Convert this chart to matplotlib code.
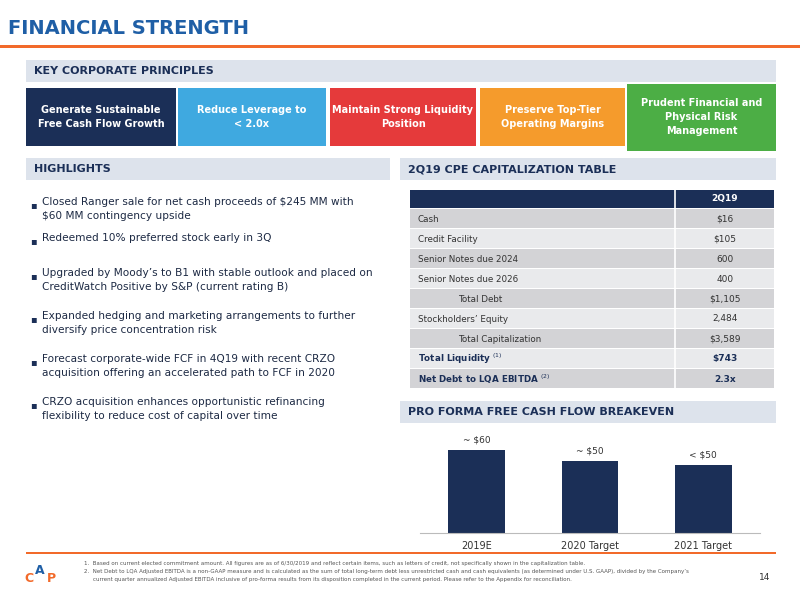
import matplotlib
matplotlib.use('Agg')
import matplotlib.pyplot as plt
from matplotlib.patches import Rectangle

NAVY = '#1b2f57'
principles = ['Generate Sustainable\nFree Cash Flow Growth', 'Reduce Leverage to\n< 2.0x',
              'Maintain Strong Liquidity\nPosition', 'Preserve Top-Tier\nOperating Margins',
              'Prudent Financial and\nPhysical Risk\nManagement']
principle_colors = [NAVY, '#3fa9e0', '#e53a3b', '#f59b2c', '#4cae45']
highlights = [
    'Closed Ranger sale for net cash proceeds of $245 MM with\n$60 MM contingency upside',
    'Redeemed 10% preferred stock early in 3Q',
    'Upgraded by Moody\u2019s to B1 with stable outlook and placed on\nCreditWatch Positive by S&P (current rating B)',
    'Expanded hedging and marketing arrangements to further\ndiversify price concentration risk',
    'Forecast corporate-wide FCF in 4Q19 with recent CRZO\nacquisition offering an accelerated path to FCF in 2020',
    'CRZO acquisition enhances opportunistic refinancing\nflexibility to reduce cost of capital over time',
]
row_labels = ['Cash', 'Credit Facility', 'Senior Notes due 2024', 'Senior Notes due 2026',
              'Total Debt', 'Stockholders\u2019 Equity', 'Total Capitalization',
              'Total Liquidity $^{(1)}$', 'Net Debt to LQA EBITDA $^{(2)}$']
row_values = ['$16', '$105', '600', '400', '$1,105', '2,484', '$3,589', '$743', '2.3x']
bar_cats = ['2019E', '2020 Target', '2021 Target']
bar_vals = [60, 51.5, 49]
bar_labels = ['~ $60', '~ $50', '< $50']

fig = plt.figure(figsize=(8, 6), dpi=100)
ax = fig.add_axes([0, 0, 1, 1])
ax.set_xlim(0, 800); ax.set_ylim(600, 0); ax.axis('off')

def rect(x, y, w, h, c):
    ax.add_patch(Rectangle((x, y), w, h, color=c, lw=0))

ax.text(8, 29, 'FINANCIAL STRENGTH', color='#1f5fa6', fontsize=14, fontweight='bold', va='center')
rect(0, 45, 800, 2.5, '#f26a2a')

def band(x, y, w, txt):
    rect(x, y, w, 22, '#dde3ec')
    ax.text(x + 8, y + 11, txt, color=NAVY, fontsize=8, fontweight='bold', va='center')

band(26, 60, 750, 'KEY CORPORATE PRINCIPLES')
xs = [26, 178, 330, 480, 627]
ws = [150, 148, 146, 145, 149]
for i, (t, c) in enumerate(zip(principles, principle_colors)):
    y0, h = (84, 67) if i == 4 else (88, 58)
    rect(xs[i], y0, ws[i], h, c)
    ax.text(xs[i] + ws[i] / 2, y0 + h / 2, t, color='white', fontsize=7, fontweight='bold',
            ha='center', va='center', linespacing=1.5)

band(26, 158, 364, 'HIGHLIGHTS')
band(400, 158, 376, '2Q19 CPE CAPITALIZATION TABLE')
ys = [205, 241, 276, 319, 362, 405]
for y, t in zip(ys, highlights):
    ax.text(30, y, '\u25aa', color=NAVY, fontsize=7, va='center')
    ax.text(42, y - 8, t, color='#1d2a44', fontsize=7.6, va='top', linespacing=1.5)

# table
tx, tw, vx = 410, 364, 675
rect(tx, 190, tw, 18, NAVY)
ax.text(725, 199, '2Q19', color='white', fontsize=6.5, fontweight='bold', ha='center', va='center')
ax.plot([vx, vx], [190, 389], color='white', lw=1.2)
for i, (lab, val) in enumerate(zip(row_labels, row_values)):
    y = 209 + i * 20
    rect(tx, y, tw, 19, '#d3d3d6' if i % 2 == 0 else '#e9eaec')
    bold = i >= 7
    indent = 48 if lab.startswith('Total D') or lab.startswith('Total C') else 8
    ax.text(tx + indent, y + 10, lab, fontsize=6.3, va='center', color=NAVY if bold else '#333',
            fontweight='bold' if bold else 'normal')
    ax.text(725, y + 10, val, fontsize=6.5, va='center', ha='center', color=NAVY if bold else '#333',
            fontweight='bold' if bold else 'normal')

band(400, 401, 376, 'PRO FORMA FREE CASH FLOW BREAKEVEN')

bx = fig.add_axes([420 / 800, 1 - 533 / 600, 340 / 800, 100 / 600])
bars = bx.bar(bar_cats, bar_vals, width=0.5, color=NAVY)
for b, l in zip(bars, bar_labels):
    bx.text(b.get_x() + b.get_width() / 2, b.get_height() + 4, l, ha='center', va='bottom',
            fontsize=6.5, color='#333')
bx.set_ylim(0, 72)
bx.set_xlim(-0.5, 2.5)
for s in ['top', 'right', 'left']:
    bx.spines[s].set_visible(False)
bx.spines['bottom'].set_color('#bbbbbb')
bx.set_yticks([])
bx.tick_params(axis='x', length=0, labelsize=7, colors='#333', pad=6)

rect(26, 552, 750, 2, '#f26a2a')
fn = dict(fontsize=4.0, color='#555', va='center')
ax.text(84, 563, '1.  Based on current elected commitment amount. All figures are as of 6/30/2019 and reflect certain items, such as letters of credit, not specifically shown in the capitalization table.', **fn)
ax.text(84, 572, '2.  Net Debt to LQA Adjusted EBITDA is a non-GAAP measure and is calculated as the sum of total long-term debt less unrestricted cash and cash equivalents (as determined under U.S. GAAP), divided by the Company\u2019s', **fn)
ax.text(93, 580, 'current quarter annualized Adjusted EBITDA inclusive of pro-forma results from its disposition completed in the current period. Please refer to the Appendix for reconciliation.', **fn)
ax.text(765, 578, '14', fontsize=6.5, color='#333', ha='center', va='center')
for x, y, ch, c in [(29, 578, 'C', '#f26a2a'), (40, 570, 'A', '#1f5fa6'), (51, 578, 'P', '#f26a2a')]:
    ax.text(x, y, ch, fontsize=9, color=c, fontweight='bold', ha='center', va='center')

fig.savefig('out.png', dpi=100)
